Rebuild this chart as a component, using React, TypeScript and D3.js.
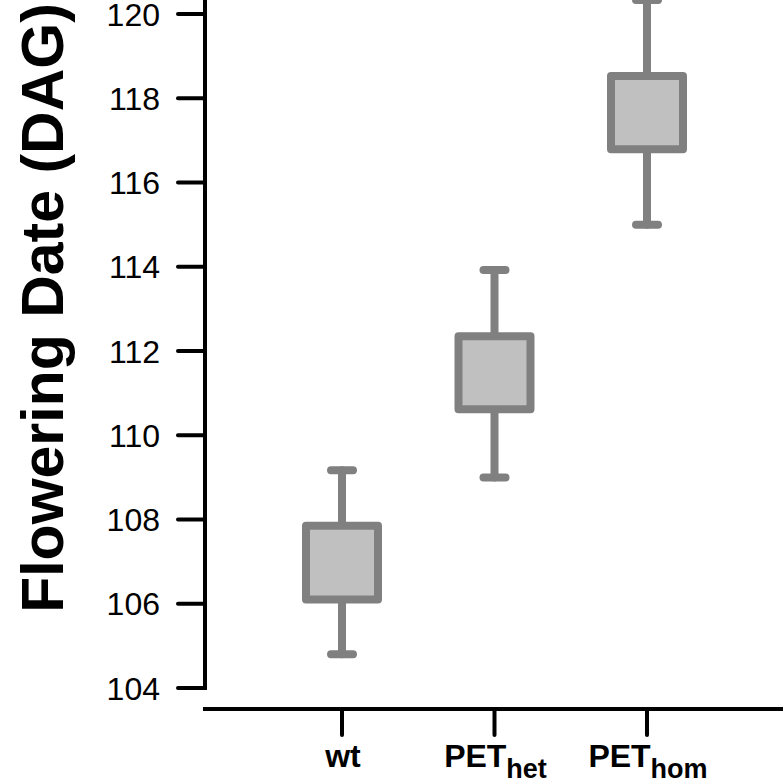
import React from "react";
import * as d3 from "d3";

const categories = ["wt", "PET_het", "PET_hom"];
const labelMain = ["wt", "PET", "PET"];
const labelSub = ["", "het", "hom"];
const whiskerLow = [104.8, 109.0, 115.0];
const boxLow = [106.1, 110.62, 116.79];
const boxHigh = [107.85, 112.35, 118.53];
const whiskerHigh = [109.17, 113.92, 120.33];
const yTicks = [104, 106, 108, 110, 112, 114, 116, 118, 120];

const W = 783;
const H = 784;

export default function App() {
  const y = d3.scaleLinear().domain([104, 120]).range([688, 14]);
  const x = d3.scalePoint<string>().domain(categories).range([342, 647]);
  const axisX = 205;
  const axisY = 709;
  const boxHalf = 36;
  const capHalf = 11;
  const gray = "#808080";
  const fill = "#c0c0c0";
  const font = "'Liberation Sans', Arial, sans-serif";

  return (
    <svg
      width={W}
      height={H}
      style={{ position: "absolute", left: 0, top: 0, background: "#fff" }}
    >
      {/* y title */}
      <text
        transform={`translate(63, 308) rotate(-90)`}
        textAnchor="middle"
        fontFamily={font}
        fontWeight="bold"
        fontSize={59}
        fill="#000"
      >
        Flowering Date (DAG)
      </text>

      {/* y axis */}
      <line x1={axisX} x2={axisX} y1={-5} y2={y(104) + 2} stroke="#000" strokeWidth={4} />
      {yTicks.map((t) => (
        <g key={t}>
          <line x1={178} x2={axisX} y1={y(t)} y2={y(t)} stroke="#000" strokeWidth={4} strokeLinecap="round" />
          <text
            x={160}
            y={y(t)}
            dy="0.36em"
            textAnchor="end"
            fontFamily={font}
            fontSize={32}
            fill="#000"
          >
            {t}
          </text>
        </g>
      ))}

      {/* x axis */}
      <line x1={203} x2={W + 5} y1={axisY} y2={axisY} stroke="#000" strokeWidth={4} />
      {categories.map((c, i) => (
        <g key={c}>
          <line
            x1={x(c)!}
            x2={x(c)!}
            y1={axisY}
            y2={735}
            stroke="#000"
            strokeWidth={4}
            strokeLinecap="round"
          />
          <text
            x={x(c)! + 1}
            y={767}
            textAnchor="middle"
            fontFamily={font}
            fontWeight="bold"
            fontSize={32}
            fill="#000"
          >
            {labelMain[i]}
            {labelSub[i] && (
              <tspan fontSize={27} dy={11}>
                {labelSub[i]}
              </tspan>
            )}
          </text>
        </g>
      ))}

      {/* boxes */}
      {categories.map((c, i) => {
        const cx = x(c)!;
        return (
          <g key={c} stroke={gray} strokeWidth={8} strokeLinecap="round">
            <line x1={cx} x2={cx} y1={y(whiskerHigh[i])} y2={y(boxHigh[i])} />
            <line x1={cx} x2={cx} y1={y(boxLow[i])} y2={y(whiskerLow[i])} />
            <line x1={cx - capHalf} x2={cx + capHalf} y1={y(whiskerHigh[i])} y2={y(whiskerHigh[i])} />
            <line x1={cx - capHalf} x2={cx + capHalf} y1={y(whiskerLow[i])} y2={y(whiskerLow[i])} />
            <rect
              x={cx - boxHalf}
              y={y(boxHigh[i])}
              width={boxHalf * 2}
              height={y(boxLow[i]) - y(boxHigh[i])}
              fill={fill}
              strokeLinejoin="round"
            />
          </g>
        );
      })}
    </svg>
  );
}
